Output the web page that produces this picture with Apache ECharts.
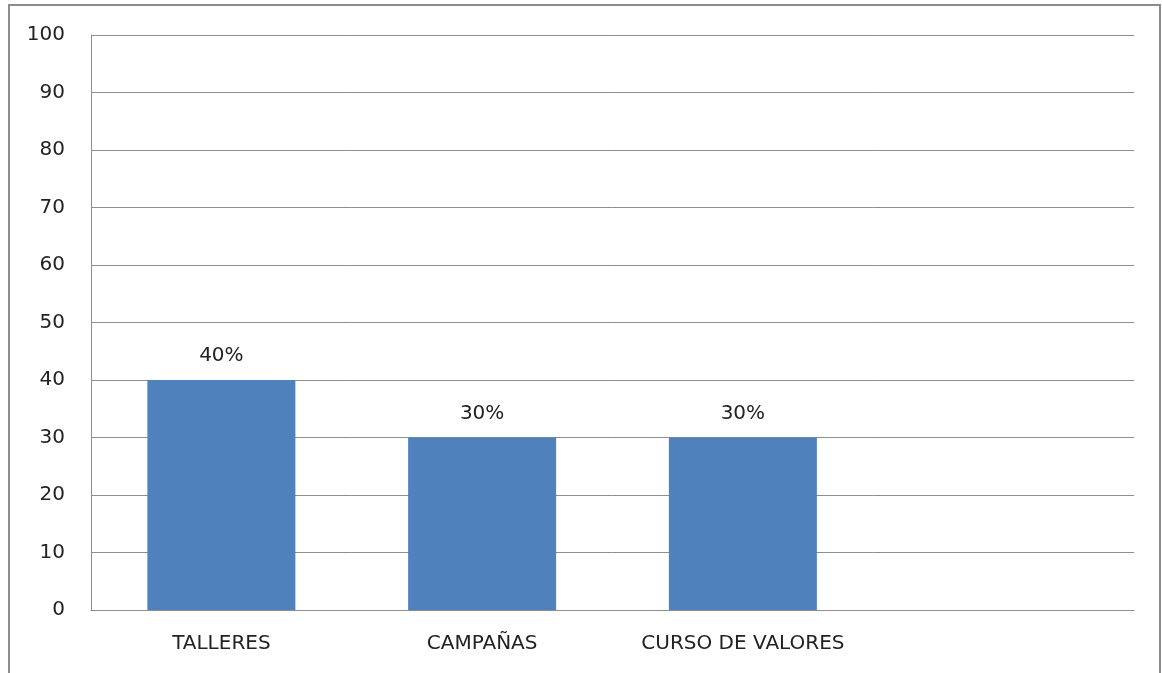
<!DOCTYPE html>
<html>
<head>
<meta charset="utf-8">
<script src="https://cdn.jsdelivr.net/npm/echarts@6/dist/echarts.min.js"></script>
<style>html,body{margin:0;padding:0;background:#fff;}#c{width:1162px;height:673px;}</style>
</head>
<body>
<div id="c"></div>
<script>
const categories = ['TALLERES', 'CAMPAÑAS', 'CURSO DE VALORES', ''];
const values = [40, 30, 30, null];
const yMin = 0, yMax = 100, yStep = 10;

const chart = echarts.init(document.getElementById('c'), null, {renderer: 'canvas'});
chart.setOption({
  animation: false,
  textStyle: {fontFamily: 'DejaVu Sans'},
  graphic: [{
    type: 'rect', silent: true,
    shape: {x: 9, y: 5, width: 1151, height: 720},
    style: {fill: 'none', stroke: '#8c8c8c', lineWidth: 2}
  }],
  grid: {left: 91, top: 35, right: 28, bottom: 63, containLabel: false},
  xAxis: {
    type: 'category', data: categories,
    axisLine: {show: true, lineStyle: {color: '#8e8e8e', width: 1}},
    axisTick: {show: false},
    axisLabel: {color: '#222', fontSize: 20, margin: 24, interval: 0, hideOverlap: false, fontFamily: 'DejaVu Sans'},
    splitLine: {show: false}
  },
  yAxis: {
    type: 'value', min: yMin, max: yMax, interval: yStep,
    axisLine: {show: true, lineStyle: {color: '#8e8e8e', width: 1}},
    axisTick: {show: false},
    axisLabel: {color: '#222', fontSize: 20, margin: 26, fontFamily: 'DejaVu Sans'},
    splitLine: {show: true, lineStyle: {color: '#8e8e8e', width: 1}}
  },
  series: [{
    type: 'bar', data: values, barWidth: 148,
    itemStyle: {color: '#4f81bd'},
    label: {show: true, position: 'top', distance: 14, formatter: '{c}%', color: '#222', fontSize: 20, fontFamily: 'DejaVu Sans'}
  }]
});
</script>
</body>
</html>
